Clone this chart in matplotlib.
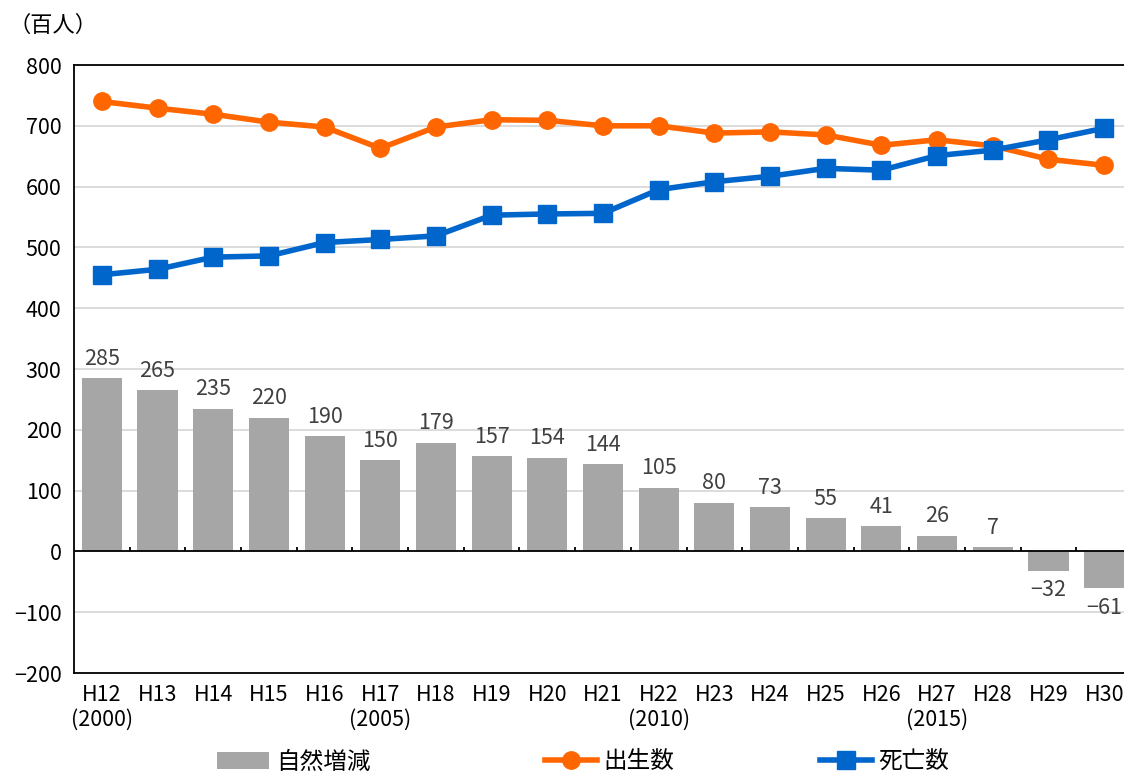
import numpy as np
import matplotlib
matplotlib.use('Agg')
import matplotlib.pyplot as plt

plt.rcParams['font.family'] = ['Noto Sans CJK JP', 'DejaVu Sans']
plt.rcParams['axes.unicode_minus'] = False

# 年次（和暦・西暦）
wareki = ['H12', 'H13', 'H14', 'H15', 'H16', 'H17', 'H18', 'H19', 'H20', 'H21',
          'H22', 'H23', 'H24', 'H25', 'H26', 'H27', 'H28', 'H29', 'H30']
seireki = ['(2000)', '', '', '', '', '(2005)', '', '', '', '',
           '(2010)', '', '', '', '', '(2015)', '', '', '']

# 出生数・死亡数（百人）
births = [740, 729, 719, 706, 698, 663, 698, 710, 709, 700,
          700, 688, 690, 685, 668, 677, 667, 645, 635]
deaths = [455, 464, 484, 486, 508, 513, 519, 553, 555, 556,
          595, 608, 617, 630, 627, 651, 660, 677, 696]
# 自然増減
natural = [285, 265, 235, 220, 190, 150, 179, 157, 154, 144,
           105, 80, 73, 55, 41, 26, 7, -32, -61]

x = np.arange(len(wareki))

fig = plt.figure(figsize=(11.24, 7.74), dpi=100)
ax = fig.add_axes([74/1124, 1 - 673/774, (1132 - 74)/1124, (673 - 65)/774])

ax.bar(x, natural, width=0.72, color='#A6A6A6', label='自然増減', zorder=2)
ax.plot(x, births, color='#FF6600', lw=4, marker='o', ms=12.5, label='出生数', zorder=4)
ax.plot(x, deaths, color='#0066CC', lw=4, marker='s', ms=12.5, label='死亡数', zorder=5)

# 棒の値ラベル
for xi, v in zip(x, natural):
    if v >= 0:
        ax.annotate(str(v), (xi, v), xytext=(0, 6), textcoords='offset points',
                    ha='center', va='bottom', fontsize=15.5, color='#404040')
    else:
        ax.annotate('−' + str(-v), (xi, v), xytext=(0, -6), textcoords='offset points',
                    ha='center', va='top', fontsize=15.5, color='#404040')

# ゼロ線と区切り目盛
ax.axhline(0, color='black', lw=1.3, zorder=3)
ax.vlines(x[1:] - 0.5, 0, 8, color='black', lw=1.3, zorder=3)

ax.set_xlim(-0.5, len(x) - 0.5)
ax.set_ylim(-200, 800)
yt = np.arange(-200, 801, 100)
ax.set_yticks(yt)
ax.set_yticklabels([('−' + str(-v)) if v < 0 else str(v) for v in yt], fontsize=15.5)
ax.set_xticks(x)
ax.set_xticklabels([w + '\n' + s for w, s in zip(wareki, seireki)], fontsize=15.5,
                   linespacing=1.15)
ax.tick_params(length=0, pad=9)
ax.tick_params(axis='x', pad=8)
ax.grid(axis='y', color='#D9D9D9', lw=1.3, zorder=0)
ax.set_axisbelow(True)
for s in ax.spines.values():
    s.set_color('black')
    s.set_linewidth(1.3)

fig.text(8/1124, 1 - 25/774, '（百人）', fontsize=16, va='center', ha='left')

# 凡例は項目ごとに配置
h, l = ax.get_legend_handles_labels()
for i, x0 in zip([2, 0, 1], [212, 540, 815]):
    fig.legend([h[i]], [l[i]], loc='center left', bbox_to_anchor=(x0/1124, 1 - 762/774),
               frameon=False, fontsize=17, handlelength=2.2, handletextpad=0.3,
               borderaxespad=0, borderpad=0.2)

fig.savefig('out.png', dpi=100)
